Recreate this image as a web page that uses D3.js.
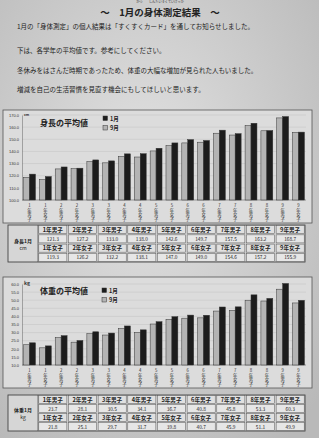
<!DOCTYPE html>
<html>
<head>
<meta charset="utf-8">
<script src="https://cdn.jsdelivr.net/npm/d3@7"></script>
<style>
  body { margin: 0; background: #c8c8c8; }
  svg { display: block; font-family: "Noto Sans CJK JP", sans-serif; }
</style>
</head>
<body>
<svg id="page" width="319" height="438"></svg>
<script>
// categories: grade x sex, in the order of the bars
var grades = ["1", "2", "3", "4", "5", "6", "7", "8", "9"];
var categories = [];
grades.forEach(function (g) {
    categories.push(g + "年男子");
    categories.push(g + "年女子");
});
var boys = grades.map(function (g) { return g + "年男子"; });
var girls = grades.map(function (g) { return g + "年女子"; });

// height (cm) – January from the table, September
var heightJanBoys = [121.3, 127.2, 133.0, 138.0, 142.6, 149.7, 157.5, 163.2, 168.7];
var heightJanGirls = [119.3, 126.2, 132.2, 138.1, 147.0, 149.0, 154.6, 157.2, 155.9];
var heightSep = [118.6, 116.8, 125.6, 125.8, 131.6, 130.6, 135.8, 135.4, 140.4, 144.8, 147.0, 147.6, 155.0, 153.5, 161.3, 157.0, 167.6, 155.7];
var heightTicks = [100, 110, 120, 130, 140, 150, 160, 170];

// weight (kg)
var weightJanBoys = [23.7, 28.1, 30.5, 34.1, 36.7, 40.8, 45.8, 53.3, 60.3];
var weightJanGirls = [21.8, 25.1, 29.7, 31.7, 39.8, 40.7, 45.9, 51.1, 49.9];
var weightSep = [22.5, 20.6, 26.9, 24.1, 29.3, 28.5, 32.5, 30.1, 35.3, 38.2, 38.9, 39.1, 43.3, 43.8, 50.0, 49.5, 56.8, 48.3];
var weightTicks = [10, 15, 20, 25, 30, 35, 40, 45, 50, 55, 60];

var series = ["9月", "1月"];
var seriesFill = { "9月": "#b4b4b4", "1月": "#1c1c1c" };

function interleave(b, g) {
    var out = [];
    b.forEach(function (v, i) { out.push(v); out.push(g[i]); });
    return out;
}

var svg = d3.select("#page");

// paper
var defs = svg.append("defs");
var grad = defs.append("radialGradient").attr("id", "paper").attr("cx", "45%").attr("cy", "40%").attr("r", "75%");
grad.append("stop").attr("offset", "0%").attr("stop-color", "#e2e2e2");
grad.append("stop").attr("offset", "100%").attr("stop-color", "#b9b9b9");
svg.append("rect").attr("width", 319).attr("height", 438).attr("fill", "url(#paper)");

// header text (furigana kept above the title)
svg.append("text").attr("x", 160).attr("y", 3).attr("text-anchor", "middle")
    .attr("font-size", 3.2).attr("fill", "#333").text("がつ　　しんたいそくていけっか");
svg.append("text").attr("x", 160).attr("y", 15.5).attr("text-anchor", "middle")
    .attr("font-size", 9.5).attr("font-weight", "bold").attr("fill", "#222")
    .text("～　1月の身体測定結果　～");

var lines = [
    { y: 29, t: "1月の「身体測定」の個人結果は「すくすくカード」を通してお知らせしました。" },
    { y: 53, t: "下は、各学年の平均値です。参考にしてください。" },
    { y: 73, t: "冬休みをはさんだ時期であったため、体重の大幅な増加が見られた人もいました。" },
    { y: 92, t: "増減を自己の生活習慣を見直す機会にもしてほしいと思います。" }
];
svg.selectAll(".line").data(lines).enter().append("text")
    .attr("class", "line").attr("x", 17).attr("y", function (d) { return d.y; })
    .attr("font-size", 6.5).attr("fill", "#222").text(function (d) { return d.t; });

function drawChart(opt) {
    var g = svg.append("g");
    g.append("rect").attr("x", opt.frame[0]).attr("y", opt.frame[1])
        .attr("width", opt.frame[2]).attr("height", opt.frame[3])
        .attr("fill", "#dcdcdc").attr("stroke", "#555").attr("stroke-width", 0.8);

    var x = d3.scaleBand().domain(categories).range([opt.left, opt.right]).paddingInner(0.25).paddingOuter(0.1);
    var xs = d3.scaleBand().domain(series).range([0, x.bandwidth()]);
    var y = d3.scaleLinear().domain(opt.domain).range([opt.bottom, opt.top]);

    // grid
    g.selectAll(".grid").data(opt.ticks).enter().append("line")
        .attr("x1", opt.left).attr("x2", opt.right)
        .attr("y1", function (d) { return y(d); }).attr("y2", function (d) { return y(d); })
        .attr("stroke", "#c2c2c2").attr("stroke-width", 0.5);

    var axis = g.append("g").attr("transform", "translate(" + opt.left + ",0)")
        .call(d3.axisLeft(y).tickValues(opt.ticks).tickSize(0).tickPadding(3).tickFormat(d3.format(".1f")));
    axis.select(".domain").attr("stroke", "#777").attr("stroke-width", 0.6);
    axis.selectAll("text").attr("font-size", 4).attr("fill", "#333").attr("font-family", "Liberation Sans, sans-serif");

    g.append("line").attr("x1", opt.left).attr("x2", opt.right)
        .attr("y1", opt.bottom).attr("y2", opt.bottom).attr("stroke", "#777").attr("stroke-width", 0.6);

    var rows = [];
    categories.forEach(function (c, i) {
        rows.push({ c: c, s: "9月", v: opt.sep[i] });
        rows.push({ c: c, s: "1月", v: opt.jan[i] });
    });
    g.selectAll(".bar").data(rows).enter().append("rect")
        .attr("x", function (d) { return x(d.c) + xs(d.s); })
        .attr("width", xs.bandwidth())
        .attr("y", function (d) { return y(d.v); })
        .attr("height", function (d) { return opt.bottom - y(d.v); })
        .attr("fill", function (d) { return seriesFill[d.s]; })
        .attr("stroke", "#333").attr("stroke-width", 0.5);

    // vertical category labels
    var lab = g.selectAll(".cat").data(categories).enter().append("text")
        .attr("font-size", 4.3).attr("fill", "#333").attr("text-anchor", "middle");
    lab.each(function (d) {
        var t = d3.select(this);
        Array.from(d).forEach(function (ch, k) {
            t.append("tspan").attr("x", x(d) + x.bandwidth() / 2)
                .attr("y", opt.bottom + 7 + k * 4.5).text(ch);
        });
    });

    g.append("text").attr("x", opt.left + 2).attr("y", opt.top + 1).attr("font-size", opt.unitSize)
        .attr("font-weight", "bold").attr("fill", "#333").text(opt.unit);

    g.append("text").attr("x", opt.titleX).attr("y", opt.titleY).attr("font-size", 8)
        .attr("font-weight", "bold").attr("fill", "#222").text(opt.title);

    var leg = g.selectAll(".leg").data(["1月", "9月"]).enter().append("g")
        .attr("transform", function (d, i) { return "translate(" + opt.legX + "," + (opt.legY + i * 9.5) + ")"; });
    leg.append("rect").attr("y", -4).attr("width", 4.5).attr("height", 4.5)
        .attr("fill", function (d) { return seriesFill[d]; }).attr("stroke", "#333").attr("stroke-width", 0.5);
    leg.append("text").attr("x", 7).attr("y", 0.5).attr("font-size", 5.5).attr("font-weight", "bold")
        .attr("fill", "#222").text(function (d) { return d; });
}

function drawTable(opt) {
    var g = svg.append("g");
    var colX = d3.scaleBand().domain(grades).range([opt.x0 + 30, opt.x1]);
    var rowY = d3.scaleBand().domain([0, 1, 2, 3]).range([opt.y0, opt.y1]);
    g.append("rect").attr("x", opt.x0).attr("y", opt.y0).attr("width", opt.x1 - opt.x0)
        .attr("height", opt.y1 - opt.y0).attr("fill", "#d6d6d6").attr("stroke", "#444").attr("stroke-width", 0.9);
    g.append("line").attr("x1", opt.x0 + 30).attr("x2", opt.x0 + 30).attr("y1", opt.y0).attr("y2", opt.y1)
        .attr("stroke", "#444").attr("stroke-width", 0.7);
    g.append("text").attr("x", opt.x0 + 15).attr("y", (opt.y0 + opt.y1) / 2 - 1).attr("text-anchor", "middle")
        .attr("font-size", 5).attr("font-weight", "bold").attr("fill", "#222").text(opt.label);
    g.append("text").attr("x", opt.x0 + 15).attr("y", (opt.y0 + opt.y1) / 2 + 6).attr("text-anchor", "middle")
        .attr("font-size", 5).attr("fill", "#222").text(opt.unit);

    var cells = [];
    grades.forEach(function (gr, i) {
        cells.push({ col: gr, row: 0, t: boys[i], head: true });
        cells.push({ col: gr, row: 1, t: d3.format(".1f")(opt.boys[i]) });
        cells.push({ col: gr, row: 2, t: girls[i], head: true });
        cells.push({ col: gr, row: 3, t: d3.format(".1f")(opt.girls[i]) });
    });
    var c = g.selectAll(".cell").data(cells).enter().append("g");
    c.append("rect")
        .attr("x", function (d) { return colX(d.col) + 0.8; })
        .attr("y", function (d) { return rowY(d.row) + 0.6; })
        .attr("width", colX.bandwidth() - 1.6).attr("height", rowY.bandwidth() - 1.2)
        .attr("fill", function (d) { return d.head ? "#e0e0e0" : "#e6e6e6"; })
        .attr("stroke", "#555").attr("stroke-width", 0.5);
    c.append("text")
        .attr("x", function (d) { return colX(d.col) + colX.bandwidth() / 2; })
        .attr("y", function (d) { return rowY(d.row) + rowY.bandwidth() / 2 + 2; })
        .attr("text-anchor", "middle")
        .attr("font-size", function (d) { return d.head ? 5.6 : 4.8; })
        .attr("font-weight", function (d) { return d.head ? "bold" : "normal"; })
        .attr("fill", "#222").text(function (d) { return d.t; });
}

drawChart({
    frame: [3, 110, 309, 113], left: 22, right: 306, top: 115, bottom: 200,
    domain: [100, 170], ticks: heightTicks,
    jan: interleave(heightJanBoys, heightJanGirls), sep: heightSep,
    unit: "cm", unitSize: 3.5, title: "身長の平均値", titleX: 40, titleY: 126, legX: 103, legY: 120
});
drawTable({ x0: 8, x1: 305, y0: 225, y1: 262, label: "身長1月", unit: "cm", boys: heightJanBoys, girls: heightJanGirls });

drawChart({
    frame: [3, 277, 309, 111], left: 22, right: 306, top: 284, bottom: 365,
    domain: [10, 60], ticks: weightTicks,
    jan: interleave(weightJanBoys, weightJanGirls), sep: weightSep,
    unit: "kg", unitSize: 5, title: "体重の平均値", titleX: 40, titleY: 294, legX: 102, legY: 292
});
drawTable({ x0: 8, x1: 305, y0: 395, y1: 431, label: "体重1月", unit: "kg", boys: weightJanBoys, girls: weightJanGirls });
</script>
</body>
</html>
